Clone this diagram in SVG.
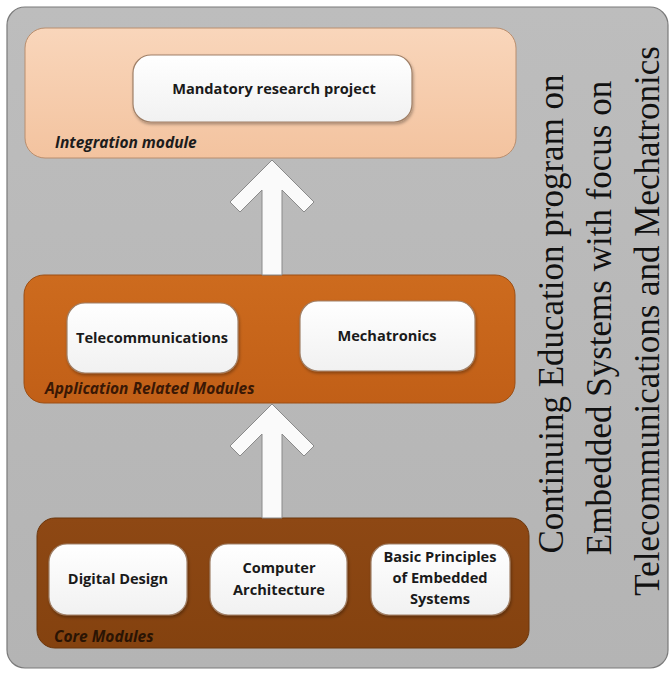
<svg xmlns="http://www.w3.org/2000/svg" width="672" height="674" viewBox="0 0 672 674">
<defs>
<linearGradient id="gBg" x1="0" y1="0" x2="0" y2="1"><stop offset="0" stop-color="#bdbdbd"/><stop offset="1" stop-color="#b4b4b4"/></linearGradient>
<linearGradient id="gInt" x1="0" y1="0" x2="0" y2="1"><stop offset="0" stop-color="#f9d6bb"/><stop offset="1" stop-color="#f3c39f"/></linearGradient>
<linearGradient id="gApp" x1="0" y1="0" x2="0" y2="1"><stop offset="0" stop-color="#cd6b1e"/><stop offset="1" stop-color="#c15f17"/></linearGradient>
<linearGradient id="gCore" x1="0" y1="0" x2="0" y2="1"><stop offset="0" stop-color="#8e4814"/><stop offset="1" stop-color="#84420f"/></linearGradient>
<linearGradient id="gWhite" x1="0" y1="0" x2="0" y2="1"><stop offset="0" stop-color="#ffffff"/><stop offset="1" stop-color="#f1f1f1"/></linearGradient>
<filter id="sh" x="-10%" y="-10%" width="120%" height="130%"><feDropShadow dx="1" dy="2" stdDeviation="1.5" flood-color="#000" flood-opacity="0.3"/></filter>
</defs>
<style>
.bg{fill:url(#gBg);stroke:#7a7a7a;stroke-width:1.2}
.int{fill:url(#gInt);stroke:#b98e6e;stroke-width:1}
.app{fill:url(#gApp);stroke:#9c4f14;stroke-width:1}
.core{fill:url(#gCore);stroke:#6b360c;stroke-width:1}
.wb{fill:url(#gWhite);stroke:#a08068;stroke-width:1.2;filter:url(#sh)}
.t{font-family:"Open Sans","Liberation Sans",sans-serif;font-weight:bold;font-size:14.6px;fill:#1a1a1a;text-anchor:middle}
.lab{font-family:"Open Sans","Liberation Sans",sans-serif;font-weight:bold;font-style:italic;font-size:15.5px}
.arr{fill:#fafafa;stroke:#8a8a8a;stroke-width:1}
.side{font-family:"Liberation Serif","Times New Roman",serif;font-size:35px;fill:#111;text-anchor:middle}
</style>
<rect class="bg" x="7" y="7" width="661" height="661" rx="18"/>
<g id="integration">
<rect class="int" x="25" y="28" width="491" height="130" rx="20"/>
<text class="lab" x="55" y="148" fill="#1c1c1c">Integration module</text>
</g>
<g id="research">
<rect class="wb" x="133" y="55" width="279" height="67" rx="18"/>
<text class="t" x="274" y="94">Mandatory research project</text>
</g>
<g id="application">
<rect class="app" x="24" y="275" width="491" height="128" rx="20"/>
<text class="lab" x="45" y="394" fill="#3a1805">Application Related Modules</text>
</g>
<g id="telecom">
<rect class="wb" x="67" y="303" width="171" height="70" rx="18"/>
<text class="t" x="152" y="343">Telecommunications</text>
</g>
<g id="mechatronics">
<rect class="wb" x="300" y="301" width="175" height="70" rx="18"/>
<text class="t" x="387" y="341">Mechatronics</text>
</g>
<g id="core">
<rect class="core" x="37" y="518" width="492" height="130" rx="18"/>
<text class="lab" x="54" y="642" fill="#2a1404">Core Modules</text>
</g>
<g id="digital">
<rect class="wb" x="49" y="544" width="138" height="71" rx="18"/>
<text class="t" x="118" y="584">Digital Design</text>
</g>
<g id="architecture">
<rect class="wb" x="210" y="544" width="137" height="71" rx="18"/>
<text class="t" x="279" y="573">Computer</text>
<text class="t" x="279" y="595">Architecture</text>
</g>
<g id="principles">
<rect class="wb" x="371" y="544" width="139" height="71" rx="18"/>
<text class="t" x="440" y="562">Basic Principles</text>
<text class="t" x="440" y="583">of Embedded</text>
<text class="t" x="440" y="604">Systems</text>
</g>
<g id="connectors">
<path class="arr" d="M272,160 L314,202 L304,212 L282,190 L282,275 L262,275 L262,190 L240,212 L230,202 Z"/>
<path class="arr" d="M272,404 L314,446 L304,456 L282,434 L282,518 L262,518 L262,434 L240,456 L230,446 Z"/>
</g>
<g id="title">
<text class="side" transform="translate(563,314) rotate(-90)">Continuing Education program on</text>
<text class="side" transform="translate(611,318) rotate(-90)">Embedded Systems with focus on</text>
<text class="side" transform="translate(659,321) rotate(-90)">Telecommunications and Mechatronics</text>
</g>
</svg>
